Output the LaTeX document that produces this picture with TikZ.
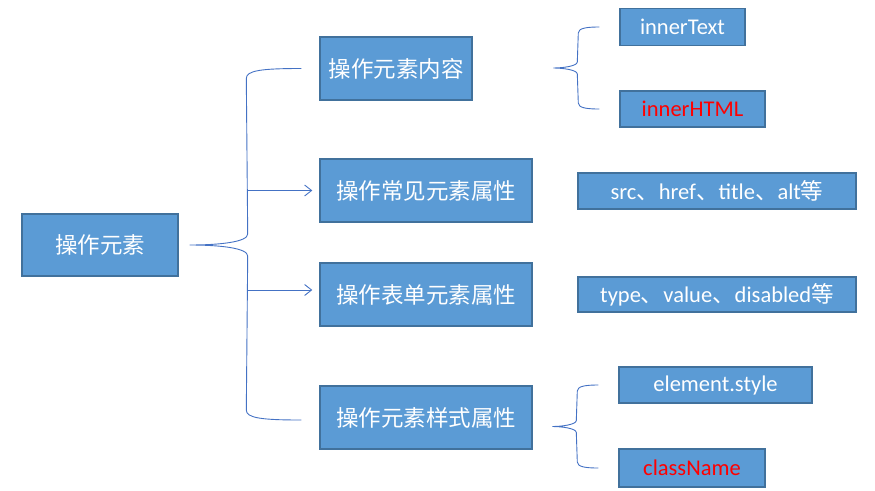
\documentclass[tikz,border=0pt]{standalone}
\usepackage{fontspec}
\setmainfont{Carlito}
\newfontfamily\cjk{Noto Sans CJK SC}
\usepackage{tikz}
\usetikzlibrary{calc,arrows.meta}
\definecolor{boxFill}{HTML}{5B9BD5}
\definecolor{boxLine}{HTML}{41719C}
\definecolor{braceLine}{HTML}{4472C4}

\begin{document}
\begin{tikzpicture}[x=1pt, y=-1pt,
    box/.style={draw=boxLine, line width=1.4pt, fill=boxFill, text=white,
      inner sep=0pt, font=\fontsize{22.5}{27}\selectfont},
    hot/.style={text=red},
    brace/.style={braceLine, line width=0.9pt},
    link/.style={braceLine, line width=0.9pt, -{Straight Barb[length=7pt, width=11pt]}}]
  \useasboundingbox (0,0) rectangle (875,490);
  % ------- the root and its four branches -------
  \node[box, minimum width=156, minimum height=62] (elem) at (100,245) {\cjk 操作元素};
  \node[box, minimum width=152, minimum height=63] (content) at (396,68.5) {\cjk 操作元素内容};
  \node[box, minimum width=212, minimum height=63] (common) at (426,190.5) {\cjk 操作常见元素属性};
  \node[box, minimum width=212, minimum height=63] (form) at (426,294.5) {\cjk 操作表单元素属性};
  \node[box, minimum width=212, minimum height=63] (styles) at (426,417.5) {\cjk 操作元素样式属性};
  % ------- leaves -------
  \node[box, minimum width=125, minimum height=37] (innertext) at (682.5,27) {innerText};
  \node[box, hot, minimum width=145, minimum height=36] (innerhtml) at (692.5,109) {innerHTML};
  \node[box, minimum width=278, minimum height=36] (srcattr) at (717,191)
    {src{\cjk 、}href{\cjk 、}title{\cjk 、}alt{\cjk 等}};
  \node[box, minimum width=278, minimum height=35] (typeattr) at (717,294.5)
    {type{\cjk 、}value{\cjk 、}disabled{\cjk 等}};
  \node[box, minimum width=193, minimum height=36] (elstyle) at (715.5,385) {element.style};
  \node[box, hot, minimum width=146, minimum height=38] (classname) at (692,468) {className};
  % ------- big brace from the root -------
  \coordinate (bigtop) at ([xshift=-18]content.west);
  \coordinate (bigbot) at ([xshift=-18]styles.west |- 0,420);
  \coordinate (bigtip) at ([xshift=11]elem.east);
  \coordinate (spine) at (247,0);
  \draw[brace] (bigtop) .. controls +(-40,0) and +(0,-8) .. ++(-55,10)
    -- ($(bigtip)+(58,-11)$) .. controls +(0,8) and +(30,0) .. (bigtip)
    .. controls +(30,0) and +(0,-8) .. ($(bigtip)+(58,11)$)
    -- ($(bigbot)+(-55,-10)$) .. controls +(0,8) and +(-40,0) .. (bigbot);
  \draw[link] (spine |- common.west) -- ([xshift=-7]common.west);
  \draw[link] (spine |- 0,290) -- ([xshift=-7]form.west |- 0,290);
  % ------- small braces -------
  \foreach \upper/\lower in {innertext/innerhtml, elstyle/classname} {
    \coordinate (top) at ([xshift=-20]\upper.west);
    \coordinate (bot) at ([xshift=-20]\lower.west);
    \coordinate (tip) at ($(top)!.5!(bot)+(-46,0)$);
    \draw[brace] (top) .. controls +(-12,0) and +(0,-5) .. ++(-21,6)
      -- ($(tip)+(24,-6)$) .. controls +(0,4) and +(10,0) .. (tip)
      .. controls +(10,0) and +(0,-4) .. ($(tip)+(24,6)$)
      -- ($(bot)+(-21,-6)$) .. controls +(0,5) and +(-12,0) .. (bot);
  }
\end{tikzpicture}
\end{document}
